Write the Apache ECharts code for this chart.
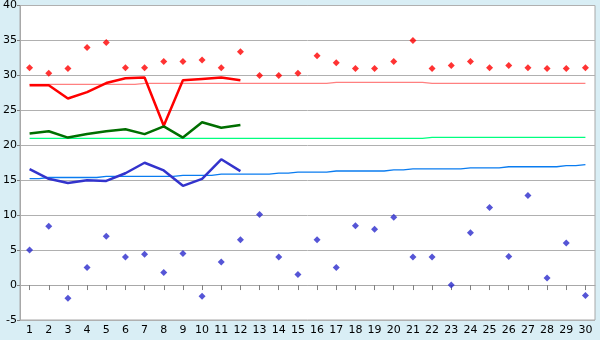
<!DOCTYPE html>
<html>
<head>
<meta charset="utf-8">
<script src="https://cdn.jsdelivr.net/npm/echarts@6/dist/echarts.min.js"></script>
<style>
html,body{margin:0;padding:0;background:#d9eef5;}
#c{width:600px;height:340px;}
</style>
</head>
<body>
<div id="c"></div>
<script>
var categories = ['1','2','3','4','5','6','7','8','9','10','11','12','13','14','15','16','17','18','19','20','21','22','23','24','25','26','27','28','29','30'];
var yTicks = {min: -5, max: 40, interval: 5};

var dailyMax = [31.1,30.3,31.0,34.0,34.7,31.1,31.1,32.0,32.0,32.2,31.1,33.4,30.0,30.0,30.3,32.8,31.8,31.0,31.0,32.0,35.0,31.0,31.4,32.0,31.1,31.4,31.1,31.0,31.0,31.1];
var dailyMin = [5.0,8.4,-1.9,2.5,7.0,4.0,4.4,1.8,4.5,-1.6,3.3,6.5,10.1,4.0,1.5,6.5,2.5,8.5,8.0,9.7,4.0,4.0,0.0,7.5,11.1,4.1,12.8,1.0,6.0,-1.5];

var monthMax = [28.6,28.6,26.7,27.6,28.9,29.6,29.7,22.8,29.3,29.5,29.7,29.3];
var monthMean = [21.7,22.0,21.1,21.6,22.0,22.3,21.6,22.7,21.1,23.3,22.5,22.9];
var monthMin = [16.6,15.2,14.6,15.0,14.9,16.0,17.5,16.4,14.2,15.2,18.0,16.3];

var normalMax = [28.71,28.71,28.71,28.71,28.71,28.71,28.86,28.86,28.86,28.86,28.86,28.86,28.86,28.86,28.86,28.86,29.0,29.0,29.0,29.0,29.0,28.86,28.86,28.86,28.86,28.86,28.86,28.86,28.86,28.86];
var normalMean = [21.0,21.0,21.0,21.0,21.0,21.0,21.0,21.0,21.0,21.0,21.0,21.0,21.0,21.0,21.0,21.0,21.0,21.0,21.0,21.0,21.0,21.14,21.14,21.14,21.14,21.14,21.14,21.14,21.14,21.14];
var normalMin = [15.24,15.39,15.39,15.39,15.55,15.55,15.55,15.55,15.70,15.70,15.86,15.86,15.86,16.01,16.16,16.16,16.32,16.32,16.32,16.47,16.63,16.63,16.63,16.78,16.78,16.93,16.93,16.93,17.09,17.24];

var chart = echarts.init(document.getElementById('c'), null, {renderer: 'canvas'});
var font = 'DejaVu Sans';
function thin(name, data, color) {
  return {name: name, type: 'line', data: data, step: 'middle', symbol: 'none',
    lineStyle: {color: color, width: 1.3}, z: 2, animation: false};
}
function thick(name, data, color) {
  return {name: name, type: 'line', data: data, symbol: 'none',
    lineStyle: {color: color, width: 2.5}, z: 3, animation: false};
}
function dots(name, data, color) {
  return {name: name, type: 'scatter', data: data, symbol: 'diamond', symbolSize: 7,
    itemStyle: {color: color}, z: 4, animation: false};
}
chart.setOption({
  backgroundColor: '#d9eef5',
  animation: false,
  grid: {left: 20, right: 5, top: 5, bottom: 20, show: true, backgroundColor: '#ffffff', borderColor: '#a8a8a8', borderWidth: 1},
  xAxis: {
    type: 'category', data: categories, boundaryGap: true,
    axisLine: {show: true, lineStyle: {color: '#a8a8a8'}},
    axisTick: {show: true, alignWithLabel: true, length: 5, lineStyle: {color: '#808080'}},
    axisLabel: {color: '#000', fontFamily: font, fontSize: 11, margin: 5, interval: 0},
    splitLine: {show: false}
  },
  yAxis: {
    type: 'value', min: yTicks.min, max: yTicks.max, interval: yTicks.interval,
    axisLine: {show: true, lineStyle: {color: '#a8a8a8'}},
    axisTick: {show: true, length: 3, lineStyle: {color: '#808080'}},
    axisLabel: {color: '#000', fontFamily: font, fontSize: 11, margin: 3},
    splitLine: {show: true, lineStyle: {color: '#b0b0b0', width: 1}}
  },
  series: [
    thin('normalMax', normalMax, '#ff8080'),
    thin('normalMean', normalMean, '#00ff80'),
    thin('normalMin', normalMin, '#0a7cf0'),
    thick('monthMax', monthMax, '#ff0000'),
    thick('monthMean', monthMean, '#006e00'),
    thick('monthMin', monthMin, '#3333cc'),
    dots('dailyMax', dailyMax, '#ff0000'),
    dots('dailyMin', dailyMin, '#2a2acc')
  ]
});
</script>
</body>
</html>
